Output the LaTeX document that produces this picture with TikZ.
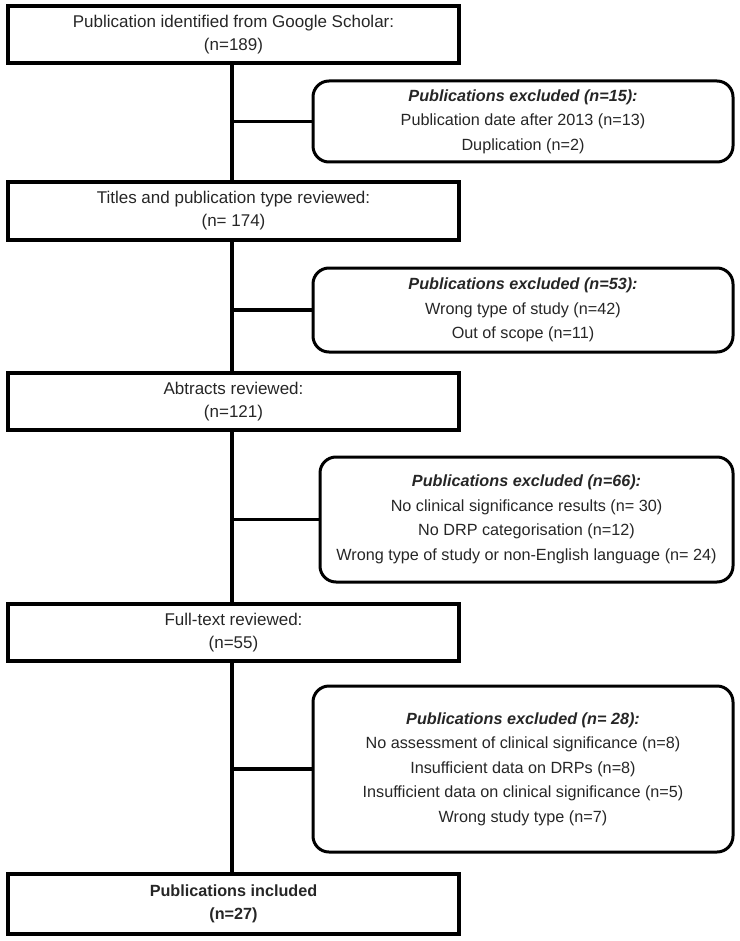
\documentclass[tikz,border=0pt]{standalone}
\usepackage{fontspec}
\setmainfont{Liberation Sans}
\begin{document}
\begin{tikzpicture}[x=1pt,y=-1pt,
  mainbox/.style={draw, line width=3.5pt, minimum width=451pt, inner sep=0pt, align=center, font=\fontsize{17}{23}\selectfont, text=black!85},
  exclbox/.style={draw, line width=3pt, rounded corners=16pt, inner sep=0pt, align=center, font=\fontsize{16.2}{24.5}\selectfont, text=black!85},
  conn/.style={line width=3.5pt}]
\useasboundingbox (0,0) rectangle (739,941);
\node[mainbox, minimum height=57pt] (b1) at (233.5,34.5) {Publication identified from Google Scholar:\\(n=189)};
\node[mainbox, minimum height=58pt] (b2) at (233.5,211) {Titles and publication type reviewed:\\(n= 174)};
\node[mainbox, minimum height=57pt] (b3) at (233.5,401.5) {Abtracts reviewed:\\(n=121)};
\node[mainbox, minimum height=57pt] (b4) at (233.5,632.5) {Full-text reviewed:\\(n=55)};
\node[mainbox, minimum height=60pt, font=\fontsize{16.2}{23}\selectfont] (b5) at (233.5,904) {\textbf{Publications included}\\\textbf{(n=27)}};
\node[exclbox, minimum width=420pt, minimum height=81pt] (e1) at (523,121.5) {\textbf{\textit{Publications excluded (n=15):}}\\Publication date after 2013 (n=13)\\Duplication (n=2)};
\node[exclbox, minimum width=420pt, minimum height=84pt] (e2) at (523,310) {\textbf{\textit{Publications excluded (n=53):}}\\Wrong type of study (n=42)\\Out of scope (n=11)};
\node[exclbox, minimum width=413pt, minimum height=125pt] (e3) at (526.5,519.5) {\textbf{\textit{Publications excluded (n=66):}}\\No clinical significance results (n= 30)\\No DRP categorisation (n=12)\\Wrong type of study or non-English language (n= 24)};
\node[exclbox, minimum width=420pt, minimum height=166pt] (e4) at (523,769) {\textbf{\textit{Publications excluded (n= 28):}}\\No assessment of clinical significance (n=8)\\Insufficient data on DRPs (n=8)\\Insufficient data on clinical significance (n=5)\\Wrong study type (n=7)};
\coordinate (v) at (232,0);
\draw[conn] (b1.south -| v) -- (b2.north -| v);
\draw[conn] (b2.south -| v) -- (b3.north -| v);
\draw[conn] (b3.south -| v) -- (b4.north -| v);
\draw[conn] (b4.south -| v) -- (b5.north -| v);
\draw[conn] (e1.west -| v) -- (e1.west);
\draw[conn] (e2.west -| v) -- (e2.west);
\draw[conn] (e3.west -| v) -- (e3.west);
\draw[conn] (e4.west -| v) -- (e4.west);
\end{tikzpicture}
\end{document}
